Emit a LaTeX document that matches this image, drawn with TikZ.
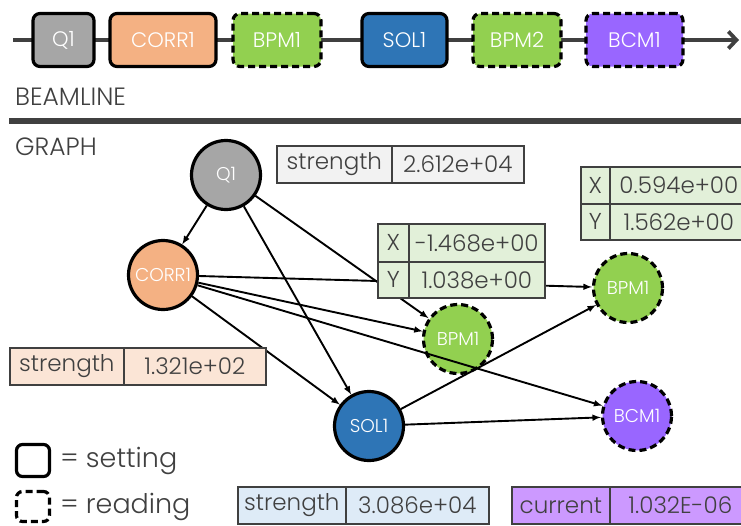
\documentclass[tikz,border=0pt]{standalone}
\usepackage{fontspec}
\setmainfont{Poppins}[UprightFont=* Light]
\usetikzlibrary{arrows,arrows.meta,positioning,shapes.geometric}
\definecolor{txtgray}{HTML}{404040}
\definecolor{qgray}{HTML}{A6A6A6}
\definecolor{corrorange}{HTML}{F4B183}
\definecolor{bpmgreen}{HTML}{92D050}
\definecolor{solblue}{HTML}{2E75B6}
\definecolor{bcmpurple}{HTML}{9966FF}
\definecolor{tgray}{HTML}{F2F2F2}
\definecolor{tgreen}{HTML}{E2F0D9}
\definecolor{torange}{HTML}{FBE5D6}
\definecolor{tblue}{HTML}{DEEBF7}
\definecolor{tpurple}{HTML}{CC99FF}
\tikzstyle{elem}=[draw=black,line width=3.2pt,rounded corners=7pt,text=white,minimum height=53pt,inner sep=0pt,font=\fontsize{21}{24}\selectfont]
\tikzstyle{dev}=[circle,draw=black,line width=3.2pt,minimum size=69pt,inner sep=0pt,text=white,font=\fontsize{18.5}{21}\selectfont]
\tikzstyle{rdg}=[dash pattern=on 7pt off 4pt]
\tikzstyle{cell}=[draw=txtgray,line width=1.7pt,minimum height=37pt,anchor=north west,inner sep=0pt,text=txtgray,font=\fontsize{23}{26}\selectfont]
\tikzstyle{title}=[anchor=base west,inner sep=0pt,text=txtgray,font=\fontsize{25}{28}\selectfont]

\begin{document}
\begin{tikzpicture}[x=1pt,y=-1pt]
\useasboundingbox (0,0) rectangle (741,525);
% beamline
\coordinate (bstart) at (13,40);
\coordinate (bend) at (739,40);
\draw[txtgray,line width=3.8pt,-{Straight Barb[length=8pt,width=17pt]}] (bstart) -- (bend);
\node[elem,fill=qgray,minimum width=61pt] (bq) at (63.5,40) {Q1};
\node[elem,fill=corrorange,minimum width=106pt] (bcorr) at (163,40) {CORR1};
\node[elem,rdg,fill=bpmgreen,minimum width=88pt] (bbpma) at (277,40) {BPM1};
\node[elem,fill=solblue,minimum width=85pt] (bsol) at (404.5,40) {SOL1};
\node[elem,rdg,fill=bpmgreen,minimum width=88pt] (bbpmb) at (517,40) {BPM2};
\node[elem,rdg,fill=bcmpurple,minimum width=97pt] (bbcm) at (634.5,40) {BCM1};
\node[title] (beamtxt) at (15,105) {BEAMLINE};
\coordinate (sepa) at (9,121);
\coordinate (sepb) at (741,121);
\draw[txtgray,line width=5.5pt] (sepa) -- (sepb);
\node[title] (graphtxt) at (15,155) {GRAPH};
% graph
\node[dev,fill=qgray] (nq) at (226,175) {Q1};
\node[dev,fill=corrorange] (ncorr) at (163,275) {CORR1};
\node[dev,rdg,fill=bpmgreen] (nbpmlo) at (458,339) {BPM1};
\node[dev,fill=solblue] (nsol) at (369,426) {SOL1};
\node[dev,rdg,fill=bpmgreen] (nbpmhi) at (628,288) {BPM1};
\node[dev,rdg,fill=bcmpurple] (nbcm) at (637,416) {BCM1};
\path[->,>=latex,line width=1.9pt]
(nq) edge (ncorr)
(nq) edge (nbpmlo)
(nq) edge (nsol)
(ncorr) edge (nbpmhi)
(ncorr) edge (nbpmlo)
(ncorr) edge (nbcm)
(ncorr) edge (nsol)
(nsol) edge (nbpmhi)
(nsol) edge (nbcm);
% readouts
\node[cell,fill=tgray,minimum width=115pt] (q1k) at (276,145) {strength};
\node[cell,fill=tgray,minimum width=132pt] (q1v) at (391,145) {2.612e+04};
\node[cell,fill=tgreen,minimum width=31pt,minimum height=38pt] (b1xk) at (377,223) {X};
\node[cell,fill=tgreen,minimum width=136pt,minimum height=38pt] (b1xv) at (408,223) {-1.468e+00};
\node[cell,fill=tgreen,minimum width=31pt,minimum height=36pt] (b1yk) at (377,261) {Y};
\node[cell,fill=tgreen,minimum width=136pt,minimum height=36pt] (b1yv) at (408,261) {1.038e+00};
\node[cell,fill=tgreen,minimum width=29pt] (b2xk) at (580,166) {X};
\node[cell,fill=tgreen,minimum width=138pt] (b2xv) at (609,166) {0.594e+00};
\node[cell,fill=tgreen,minimum width=29pt,minimum height=36pt] (b2yk) at (580,203) {Y};
\node[cell,fill=tgreen,minimum width=138pt,minimum height=36pt] (b2yv) at (609,203) {1.562e+00};
\node[cell,fill=torange,minimum width=114pt] (ck) at (9,347) {strength};
\node[cell,fill=torange,minimum width=142pt] (cv) at (123,347) {1.321e+02};
\node[cell,fill=tblue,minimum width=108pt] (sk) at (237,486) {strength};
\node[cell,fill=tblue,minimum width=143pt] (sv) at (345,486) {3.086e+04};
\node[cell,fill=tpurple,minimum width=98pt] (bk) at (511,486) {current};
\node[cell,fill=tpurple,minimum width=141pt] (bv) at (609,486) {1.032E-06};
% legend
\node[draw,line width=3.2pt,rounded corners=6pt,minimum width=33pt,minimum height=32pt] (lset) at (33,460.5) {};
\node[right=9pt of lset,inner sep=0pt,text=txtgray,font=\fontsize{27}{30}\selectfont] (lsettxt) {= setting};
\node[draw,rdg,line width=3.2pt,rounded corners=6pt,minimum width=33pt,minimum height=30pt] (lrdg) at (33,506.5) {};
\node[right=9pt of lrdg,inner sep=0pt,text=txtgray,font=\fontsize{27}{30}\selectfont] (lrdgtxt) {= reading};
\end{tikzpicture}
\end{document}
